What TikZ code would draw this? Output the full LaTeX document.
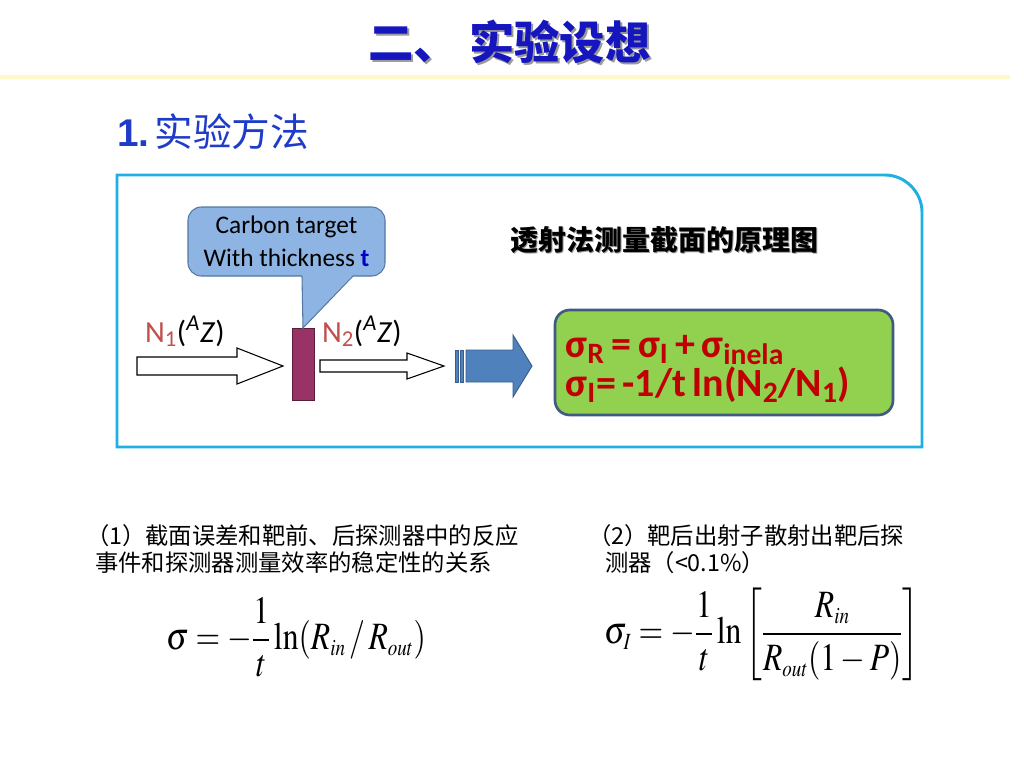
\documentclass[tikz,border=0pt]{standalone}
\usepackage{mathptmx}
\usepackage{fontspec}
\setmainfont{Carlito}
\newfontfamily\cjk{Noto Sans CJK SC}
\newfontfamily\arial{Liberation Sans}

\definecolor{titleblue}{RGB}{22,22,190}
\definecolor{subblue}{RGB}{30,60,200}
\definecolor{lineyellow}{RGB}{255,249,200}
\definecolor{boxcyan}{RGB}{30,176,226}
\definecolor{calloutfill}{RGB}{141,180,226}
\definecolor{calloutedge}{RGB}{85,120,165}
\definecolor{targetfill}{RGB}{153,51,102}
\definecolor{targetedge}{RGB}{90,30,60}
\definecolor{nred}{RGB}{192,80,77}
\definecolor{arrowblue}{RGB}{79,129,189}
\definecolor{arrowedge}{RGB}{56,93,138}
\definecolor{resultfill}{RGB}{146,208,80}
\definecolor{resultedge}{RGB}{65,90,130}
\definecolor{formred}{RGB}{192,0,0}
\definecolor{tblue}{RGB}{0,0,200}

\begin{document}
\begin{tikzpicture}[x=0.75pt,y=-0.75pt,
    every node/.style={inner sep=0pt,outer sep=0pt},
    hollow/.style={draw=black,fill=white,line width=0.8pt},
    blockarrow/.style={draw=arrowedge,fill=arrowblue,line width=0.7pt},
    calloutbox/.style={draw=calloutedge,fill=calloutfill,line width=0.8pt,rounded corners=10pt,
        minimum width=147.75pt,minimum height=51.75pt,align=center,font=\fontsize{19}{24.75}\selectfont},
    resultbox/.style={draw=resultedge,fill=resultfill,line width=2pt,rounded corners=11pt,
        minimum width=253.5pt,minimum height=78.75pt},
    resulttext/.style={text=formred,text width=237.5pt,align=left,font=\fontsize{30}{29}\bfseries},
    formula/.style={xscale=0.82,font=\fontsize{29}{29}\selectfont}]
    \useasboundingbox (0,0) rectangle (1024,768);
    \fill[white] (0,0) rectangle (1024,768);

    % title
    \node[anchor=west,text=black!40] at (370,44) {\fontsize{34}{34}\cjk\bfseries 二、\hspace{8pt}实验设想};
    \node[anchor=west,text=titleblue] (title) at (368,42) {\fontsize{34}{34}\cjk\bfseries 二、\hspace{8pt}实验设想};
    \draw[lineyellow,line width=3pt] (0,77) -- (1010,77);

    \node[anchor=west,text=subblue] (subtitle) at (117,132) {\fontsize{29}{29}\arial\bfseries 1.\hspace{4pt}\cjk\mdseries 实验方法};

    % frame
    \draw[boxcyan,line width=2.2pt] (117,447) -- (117,175) -- (885,175)
        .. controls (905,175) and (922,192) .. (922,212) -- (922,447) -- cycle;

    % target and callout
    \node[draw=targetedge,fill=targetfill,line width=0.7pt,minimum width=16.5pt,minimum height=54pt] (target) at (303,364) {};
    \node[calloutbox] (callout) at (286.5,241.5) {Carbon target\\With thickness \textbf{\color{tblue}t}};
    \fill[calloutfill] (302,275) -- (target.north) -- (353,275) -- cycle;
    \draw[calloutedge,line width=0.8pt] (302,276) -- (target.north) -- (353,276);

    \node[anchor=base west] (n1) at (145,342) {\fontsize{23}{23}\selectfont\color{nred}N\textsubscript{1}\color{black}(\textsuperscript{\textit{A}}\textit{Z})};
    \node[anchor=base west] (n2) at (322,342) {\fontsize{23}{23}\selectfont\color{nred}N\textsubscript{2}\color{black}(\textsuperscript{\textit{A}}\textit{Z})};

    % beam arrows
    \draw[hollow] (137,357) -- (237,357) -- (237,348) -- (283,366) -- (237,384) -- (237,375) -- (137,375) -- cycle;
    \draw[hollow] (320,360) -- (407,360) -- (407,353) -- (444,366) -- (407,379) -- (407,372) -- (320,372) -- cycle;

    \draw[blockarrow] (455,350) rectangle (458,382);
    \draw[blockarrow] (460,350) rectangle (463,382);
    \draw[blockarrow] (466,350) -- (513,350) -- (513,335) -- (532,366) -- (513,397) -- (513,382) -- (466,382) -- cycle;

    \node[text=black!40] at (665.5,241.5) {\fontsize{21}{21}\cjk\bfseries 透射法测量截面的原理图};
    \node (caption) at (664,240) {\fontsize{21}{21}\cjk\bfseries 透射法测量截面的原理图};

    \node[resultbox] (result) at (724,362.5) {};
    \node[resulttext] (resulttext) at ([yshift=-5pt]result.center) {%
        σ\textsubscript{R}\,=\,σ\textsubscript{I}\,+\,σ\textsubscript{inela}\\
        σ\textsubscript{I}=\,-1/t\,ln(N\textsubscript{2}/N\textsubscript{1})};

    % notes
    \node[anchor=base west] (note1a) at (86,544) {\fontsize{17.5}{17.5}\cjk （1）截面误差和靶前、后探测器中的反应};
    \node[anchor=base west] (note1b) at (95,571) {\fontsize{17.5}{17.5}\cjk 事件和探测器测量效率的稳定性的关系};
    \node[anchor=base west] (note2a) at (588,544) {\fontsize{17.5}{17.5}\cjk （2）靶后出射子散射出靶后探};
    \node[anchor=base west] (note2b) at (605,571) {\fontsize{17.5}{17.5}\cjk 测器（<0.1\%）};

    \node[formula] (formula1) at (296,637) {%
        $\displaystyle \sigma = -\frac{1}{t}\ln(R_{\scriptscriptstyle in}\,/\,R_{\scriptscriptstyle out})$};
    \node[formula] (formula2) at (762,634) {%
        $\displaystyle \sigma_{\scriptscriptstyle I} = -\frac{1}{t}\ln\left[\frac{R_{\scriptscriptstyle in}}{R_{\scriptscriptstyle out}(1-P)}\right]$};
\end{tikzpicture}
\end{document}
